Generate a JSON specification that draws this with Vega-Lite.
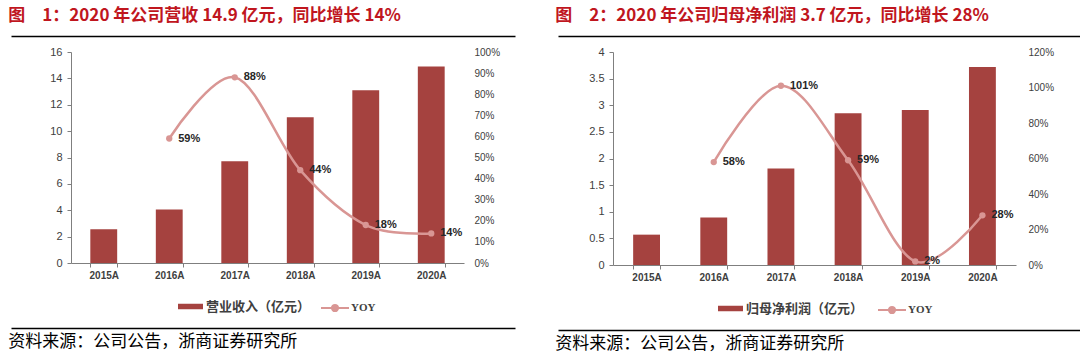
{
  "$schema": "https://vega.github.io/schema/vega-lite/v6.json",
  "background": "white",
  "padding": {"left": 8, "top": 6, "right": 0, "bottom": 0},
  "datasets": {
    "rev": [
      {"year": "2015A", "value": 2.55, "yoy": null},
      {"year": "2016A", "value": 4.05, "yoy": 0.59},
      {"year": "2017A", "value": 7.71, "yoy": 0.88},
      {"year": "2018A", "value": 11.05, "yoy": 0.44},
      {"year": "2019A", "value": 13.1, "yoy": 0.18},
      {"year": "2020A", "value": 14.9, "yoy": 0.14}
    ],
    "np": [
      {"year": "2015A", "value": 0.57, "yoy": null},
      {"year": "2016A", "value": 0.89, "yoy": 0.58},
      {"year": "2017A", "value": 1.81, "yoy": 1.01},
      {"year": "2018A", "value": 2.85, "yoy": 0.59},
      {"year": "2019A", "value": 2.91, "yoy": 0.02},
      {"year": "2020A", "value": 3.72, "yoy": 0.28}
    ],
    "dummy": [{"v": 0}]
  },
  "hconcat": [
    {
      "vconcat": [
        {
          "width": 444, "height": 1,
          "title": {"text": "图　1：2020 年公司营收 14.9 亿元，同比增长 14%", "anchor": "start", "frame": "bounds", "font": "Noto Sans CJK SC", "fontSize": 17, "fontWeight": "bold", "color": "#C0161E", "offset": 8},
          "data": {"name": "dummy"},
          "mark": {"type": "point", "opacity": 0},
          "encoding": {"x": {"field": "v", "type": "quantitative", "scale": {"domain": [0, 1], "range": [-60, 444]}, "axis": {"orient": "bottom", "domain": true, "domainColor": "#000000", "domainWidth": 1.5, "ticks": false, "labels": false, "grid": false, "title": null}}}
        },
        {
          "width": 393, "height": 211,
          "data": {"name": "rev"},
          "layer": [
            {
              "mark": {"type": "bar"},
              "encoding": {
                "x": {"field": "year", "type": "nominal", "scale": {"paddingInner": 0.59, "paddingOuter": 0.295},
                      "axis": {"title": null, "labelAngle": 0, "tickBand": "extent", "tickSize": 4, "labelFontSize": 10, "labelFontWeight": "bold", "labelPadding": 3}},
                "y": {"field": "value", "type": "quantitative", "scale": {"domain": [0, 16]},
                      "axis": {"title": null, "values": [0, 2, 4, 6, 8, 10, 12, 14, 16], "tickSize": 4, "labelPadding": 5, "minExtent": 60}},
                "fill": {"datum": "营业收入（亿元）", "scale": {"range": ["#A5423F"]},
                         "legend": {"orient": "none", "legendX": 104, "legendY": 256, "title": null, "padding": 2, "symbolType": "M-1,-0.22H1V0.22H-1Z", "symbolSize": 625, "labelFont": "Noto Sans CJK SC", "labelFontSize": 13, "labelFontWeight": "bold", "labelColor": "#404040", "labelOffset": 2}}
              }
            },
            {
              "transform": [{"filter": "isValid(datum.yoy)"}],
              "mark": {"type": "line", "interpolate": "cardinal", "strokeWidth": 2.5},
              "encoding": {
                "x": {"field": "year", "type": "nominal"},
                "y": {"field": "yoy", "type": "quantitative", "scale": {"domain": [0, 1]},
                      "axis": {"orient": "right", "title": null, "values": [0, 0.1, 0.2, 0.3, 0.4, 0.5, 0.6, 0.7, 0.8, 0.9, 1], "format": ".0%", "domain": false, "ticks": false, "labelPadding": 10, "labelFontSize": 10}},
                "stroke": {"datum": "YOY", "scale": {"range": ["#D99694"]},
                           "legend": {"orient": "none", "legendX": 247, "legendY": 256, "title": null, "padding": 2, "symbolType": "M-1,0H1M-0.22,0A0.22,0.22,0,1,1,0.22,0A0.22,0.22,0,1,1,-0.22,0", "symbolSize": 784, "symbolStrokeWidth": 2, "symbolFillColor": "#D99694", "labelFont": "Liberation Serif", "labelFontSize": 11, "labelFontWeight": "bold", "labelColor": "#404040", "labelOffset": 1}}
              }
            },
            {
              "transform": [{"filter": "isValid(datum.yoy)"}],
              "mark": {"type": "point", "filled": true, "size": 40, "color": "#D99694", "opacity": 1},
              "encoding": {
                "x": {"field": "year", "type": "nominal"},
                "y": {"field": "yoy", "type": "quantitative", "scale": {"domain": [0, 1]}, "axis": null}
              }
            },
            {
              "transform": [{"filter": "isValid(datum.yoy)"}],
              "mark": {"type": "text", "align": "left", "baseline": "middle", "dx": 9, "font": "Liberation Sans", "fontSize": 11, "fontWeight": "bold", "color": "#262626"},
              "encoding": {
                "x": {"field": "year", "type": "nominal"},
                "y": {"field": "yoy", "type": "quantitative", "scale": {"domain": [0, 1]}, "axis": null},
                "text": {"field": "yoy", "type": "quantitative", "format": ".0%"}
              }
            }
          ],
          "resolve": {"scale": {"y": "independent"}}
        },
        {
          "width": 444, "height": 41,
          "title": {"text": "资料来源：公司公告，浙商证券研究所", "orient": "bottom", "anchor": "start", "frame": "bounds", "font": "Noto Sans CJK SC", "fontSize": 17, "fontWeight": "normal", "color": "#000000", "offset": 6},
          "data": {"name": "dummy"},
          "mark": {"type": "point", "opacity": 0},
          "encoding": {"x": {"field": "v", "type": "quantitative", "scale": {"domain": [0, 1], "range": [-60, 444]}, "axis": {"orient": "bottom", "domain": true, "domainColor": "#000000", "domainWidth": 1.5, "ticks": false, "labels": false, "grid": false, "title": null}}}
        }
      ],
      "spacing": 7
    },
    {
      "vconcat": [
        {
          "width": 468, "height": 1,
          "title": {"text": "图　2：2020 年公司归母净利润 3.7 亿元，同比增长 28%", "anchor": "start", "frame": "bounds", "font": "Noto Sans CJK SC", "fontSize": 17, "fontWeight": "bold", "color": "#C0161E", "offset": 8},
          "data": {"name": "dummy"},
          "mark": {"type": "point", "opacity": 0},
          "encoding": {"x": {"field": "v", "type": "quantitative", "scale": {"domain": [0, 1], "range": [-55, 468]}, "axis": {"orient": "bottom", "domain": true, "domainColor": "#000000", "domainWidth": 1.5, "ticks": false, "labels": false, "grid": false, "title": null}}}
        },
        {
          "width": 403, "height": 213,
          "data": {"name": "np"},
          "layer": [
            {
              "mark": {"type": "bar"},
              "encoding": {
                "x": {"field": "year", "type": "nominal", "scale": {"paddingInner": 0.6, "paddingOuter": 0.3},
                      "axis": {"title": null, "labelAngle": 0, "tickBand": "extent", "tickSize": 4, "labelFontSize": 10, "labelFontWeight": "bold", "labelPadding": 3}},
                "y": {"field": "value", "type": "quantitative", "scale": {"domain": [0, 4]},
                      "axis": {"title": null, "values": [0, 0.5, 1, 1.5, 2, 2.5, 3, 3.5, 4], "format": "~g", "tickSize": 4, "labelPadding": 5, "minExtent": 55}},
                "fill": {"datum": "归母净利润（亿元）", "scale": {"range": ["#A5423F"]},
                         "legend": {"orient": "none", "legendX": 102, "legendY": 258, "title": null, "padding": 2, "symbolType": "M-1,-0.22H1V0.22H-1Z", "symbolSize": 625, "labelFont": "Noto Sans CJK SC", "labelFontSize": 13, "labelFontWeight": "bold", "labelColor": "#404040", "labelOffset": 2}}
              }
            },
            {
              "transform": [{"filter": "isValid(datum.yoy)"}],
              "mark": {"type": "line", "interpolate": "cardinal", "strokeWidth": 2.5},
              "encoding": {
                "x": {"field": "year", "type": "nominal"},
                "y": {"field": "yoy", "type": "quantitative", "scale": {"domain": [0, 1.2]},
                      "axis": {"orient": "right", "title": null, "values": [0, 0.2, 0.4, 0.6, 0.8, 1, 1.2], "format": ".0%", "domain": false, "ticks": false, "labelPadding": 12, "labelFontSize": 10}},
                "stroke": {"datum": "YOY", "scale": {"range": ["#D99694"]},
                           "legend": {"orient": "none", "legendX": 262, "legendY": 258, "title": null, "padding": 2, "symbolType": "M-1,0H1M-0.22,0A0.22,0.22,0,1,1,0.22,0A0.22,0.22,0,1,1,-0.22,0", "symbolSize": 784, "symbolStrokeWidth": 2, "symbolFillColor": "#D99694", "labelFont": "Liberation Serif", "labelFontSize": 11, "labelFontWeight": "bold", "labelColor": "#404040", "labelOffset": 1}}
              }
            },
            {
              "transform": [{"filter": "isValid(datum.yoy)"}],
              "mark": {"type": "point", "filled": true, "size": 40, "color": "#D99694", "opacity": 1},
              "encoding": {
                "x": {"field": "year", "type": "nominal"},
                "y": {"field": "yoy", "type": "quantitative", "scale": {"domain": [0, 1.2]}, "axis": null}
              }
            },
            {
              "transform": [{"filter": "isValid(datum.yoy)"}],
              "mark": {"type": "text", "align": "left", "baseline": "middle", "dx": 9, "font": "Liberation Sans", "fontSize": 11, "fontWeight": "bold", "color": "#262626"},
              "encoding": {
                "x": {"field": "year", "type": "nominal"},
                "y": {"field": "yoy", "type": "quantitative", "scale": {"domain": [0, 1.2]}, "axis": null},
                "text": {"field": "yoy", "type": "quantitative", "format": ".0%"}
              }
            }
          ],
          "resolve": {"scale": {"y": "independent"}}
        },
        {
          "width": 468, "height": 41,
          "title": {"text": "资料来源：公司公告，浙商证券研究所", "orient": "bottom", "anchor": "start", "frame": "bounds", "font": "Noto Sans CJK SC", "fontSize": 17, "fontWeight": "normal", "color": "#000000", "offset": 6},
          "data": {"name": "dummy"},
          "mark": {"type": "point", "opacity": 0},
          "encoding": {"x": {"field": "v", "type": "quantitative", "scale": {"domain": [0, 1], "range": [-55, 468]}, "axis": {"orient": "bottom", "domain": true, "domainColor": "#000000", "domainWidth": 1.5, "ticks": false, "labels": false, "grid": false, "title": null}}}
        }
      ],
      "spacing": 7
    }
  ],
  "spacing": -20,
  "resolve": {"scale": {"fill": "independent", "stroke": "independent"}},
  "config": {
    "view": {"stroke": null},
    "font": "Liberation Sans",
    "axis": {"labelFont": "Liberation Sans", "labelColor": "#404040", "labelFontSize": 11, "domainColor": "#7f7f7f", "tickColor": "#7f7f7f", "grid": false}
  }
}
